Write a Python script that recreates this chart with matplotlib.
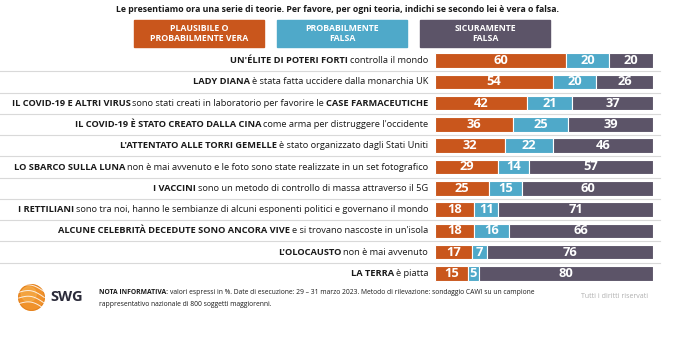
import matplotlib
matplotlib.use("Agg")
import matplotlib.pyplot as plt
from matplotlib.text import Annotation
import numpy as np

plt.rcParams['font.family'] = ['Open Sans', 'DejaVu Sans']

title = "Le presentiamo ora una serie di teorie. Per favore, per ogni teoria, indichi se secondo lei è vera o falsa."
legend_labels = ["PLAUSIBILE O\nPROBABILMENTE VERA", "PROBABILMENTE\nFALSA", "SICURAMENTE\nFALSA"]
colors = ["#C9561C", "#4FA9C9", "#5C5468"]

bold_parts = [
    "UN'ÉLITE DI POTERI FORTI",
    "LADY DIANA",
    "IL COVID-19 E ALTRI VIRUS",
    "IL COVID-19 È STATO CREATO DALLA CINA",
    "L'ATTENTATO ALLE TORRI GEMELLE",
    "LO SBARCO SULLA LUNA",
    "I VACCINI",
    "I RETTILIANI",
    "ALCUNE CELEBRITÀ DECEDUTE SONO ANCORA VIVE",
    "L'OLOCAUSTO",
    "LA TERRA",
]
normal_parts = [
    "controlla il mondo",
    "è stata fatta uccidere dalla monarchia UK",
    "sono stati creati in laboratorio per favorire le",
    "come arma per distruggere l'occidente",
    "è stato organizzato dagli Stati Uniti",
    "non è mai avvenuto e le foto sono state realizzate in un set fotografico",
    "sono un metodo di controllo di massa attraverso il 5G",
    "sono tra noi, hanno le sembianze di alcuni esponenti politici e governano il mondo",
    "e si trovano nascoste in un'isola",
    "non è mai avvenuto",
    "è piatta",
]
trailing_bold = ["", "", "CASE FARMACEUTICHE", "", "", "", "", "", "", "", ""]

vera = [60, 54, 42, 36, 32, 29, 25, 18, 18, 17, 15]
prob_falsa = [20, 20, 21, 25, 22, 14, 15, 11, 16, 7, 5]
sicur_falsa = [20, 26, 37, 39, 46, 57, 60, 71, 66, 76, 80]

note_bold = "NOTA INFORMATIVA:"
note_rest = "valori espressi in %. Date di esecuzione: 29 – 31 marzo 2023. Metodo di rilevazione: sondaggio CAWI su un campione"
note_line2 = "rappresentativo nazionale di 800 soggetti maggiorenni."

W, H = 680, 348
fig = plt.figure(figsize=(W / 100, H / 100), dpi=100)
fig.patch.set_facecolor("white")

x0, x1 = 435, 653
ytop, ybot = 50, 284
LFS = 6.7
GAP = 1.3  # points between label pieces

# separators and row labels
lab = fig.add_axes([0, 1 - ybot / H, 1, (ybot - ytop) / H])
lab.set_xlim(0, W)
n = len(vera)
lab.set_ylim(n - 0.5, -0.5)
lab.axis("off")
for i in range(n - 1):
    lab.plot([0, 660], [i + 0.5, i + 0.5], color="#d9d9d9", linewidth=0.8)
for i in range(n):
    parts = [(trailing_bold[i], "bold"), (normal_parts[i], "normal"), (bold_parts[i], "bold")]
    prev = None
    for txt, w in parts:
        if not txt:
            continue
        if prev is None:
            prev = lab.text(x0 - 7, i, txt, ha="right", va="center", fontsize=LFS,
                            fontweight=w, color="#1a1a1a")
        else:
            prev = lab.annotate(txt, xy=(0, 0.5), xycoords=prev, xytext=(-GAP, 0),
                                textcoords="offset points", ha="right", va="center",
                                fontsize=LFS, fontweight=w, color="#1a1a1a")

# stacked bars
ax = fig.add_axes([x0 / W, 1 - ybot / H, (x1 - x0) / W, (ybot - ytop) / H])
ypos = np.arange(n)
left = np.zeros(n)
for vals, c in zip([vera, prob_falsa, sicur_falsa], colors):
    vals = np.array(vals, dtype=float)
    ax.barh(ypos, vals, left=left, height=0.68, color=c, edgecolor="white", linewidth=0.8)
    for i, v in enumerate(vals):
        ax.text(left[i] + v / 2, ypos[i], f"{int(v)}", ha="center", va="center",
                color="white", fontsize=9.3, fontweight="bold")
    left += vals
ax.set_xlim(0, 100)
ax.set_ylim(n - 0.5, -0.5)
ax.axis("off")

# title
fig.text(338 / W, 1 - 10 / H, title, ha="center", va="center", fontsize=6.3,
         fontweight="bold", color="#1a1a1a")

# legend boxes
boxes = [(134, 264), (277, 407), (420, 550)]
for (bx0, bx1), c, lbl in zip(boxes, colors, legend_labels):
    fig.patches.append(plt.Rectangle((bx0 / W, 1 - 47 / H), (bx1 - bx0) / W, 27 / H,
                                     transform=fig.transFigure, color=c))
    fig.text((bx0 + bx1) / 2 / W, 1 - 33.5 / H, lbl, ha="center", va="center",
             fontsize=6.3, fontweight="bold", color="white", linespacing=1.25)

# footer logo
logo = fig.add_axes([18 / W, 1 - 311 / H, 27 / W, 27 / H])
logo.set_xlim(-1, 1)
logo.set_ylim(-1, 1)
logo.set_aspect("equal")
logo.axis("off")
logo.add_patch(plt.Circle((0, 0), 0.95, color="#F0922B"))
logo.add_patch(plt.Circle((-0.2, 0.25), 0.55, color="#F6B04E", alpha=0.6))
s = np.linspace(-0.95, 0.95, 60)
for k in range(4):
    yy = -0.65 + k * 0.42
    logo.plot(s, yy + 0.3 * np.sin((s + 0.95) / 1.9 * np.pi) - 0.2 * s,
              color="white", lw=0.7, alpha=0.85)
logo.add_patch(plt.Circle((0, 0), 0.95, fill=False, color="#E07E1E", lw=0.5))
fig.text(50 / W, 1 - 297 / H, "SWG", ha="left", va="center", fontsize=10.5,
         fontweight="bold", color="#2b2b3a")

# footnote
nb = fig.text(99 / W, 1 - 293 / H, note_bold, ha="left", va="center",
              fontsize=4.9, fontweight="bold", color="#1a1a1a")
fig.add_artist(Annotation(note_rest, xy=(1, 0.5), xycoords=nb, xytext=(1.2, 0),
                          textcoords="offset points", ha="left", va="center",
                          fontsize=4.9, color="#1a1a1a"))
fig.text(99 / W, 1 - 304 / H, note_line2, ha="left", va="center",
         fontsize=4.9, color="#1a1a1a")
fig.text(615 / W, 1 - 297 / H, "Tutti i diritti riservati", ha="center", va="center",
         fontsize=5, color="#b0b0b0")

fig.savefig("out.png", dpi=100, facecolor="white")
